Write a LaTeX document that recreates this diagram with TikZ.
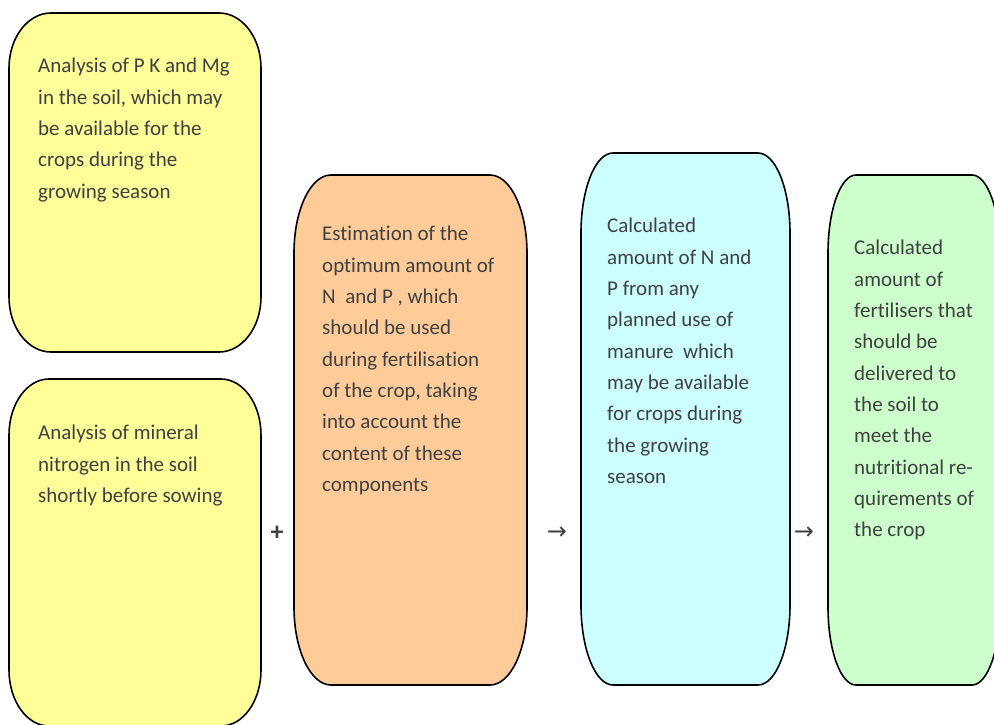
\documentclass[tikz,border=0pt]{standalone}
\usepackage{fontspec}
\setmainfont{Carlito}[Ligatures=NoCommon]
\newfontfamily\symfont{DejaVu Sans}
\definecolor{txt}{HTML}{404040}
\definecolor{cyel}{HTML}{FFFF99}
\definecolor{corg}{HTML}{FFCC99}
\definecolor{ccya}{HTML}{CCFFFF}
\definecolor{cgrn}{HTML}{CCFFCC}
\newcommand\ellbox[7]{%
  \draw[boxline,fill=#1] ({#2+#6},#5) -- ({#4-#6},#5)
    arc[start angle=90,end angle=0,x radius=#6,y radius=#7]
    -- (#4,{#3+#7})
    arc[start angle=0,end angle=-90,x radius=#6,y radius=#7]
    -- ({#2+#6},#3)
    arc[start angle=270,end angle=180,x radius=#6,y radius=#7]
    -- (#2,{#5-#7})
    arc[start angle=180,end angle=90,x radius=#6,y radius=#7]
    -- cycle;}
\begin{document}
\begin{tikzpicture}[x=1pt,y=1pt,
  boxline/.style={draw=black,line width=1.6pt},
  boxtext/.style={anchor=base west,inner sep=0pt,text=txt,
    font=\fontsize{21}{31.3}\selectfont},
  sym/.style={inner sep=0pt,text=txt}]
\useasboundingbox (0,0) rectangle (994,724);
\ellbox{cyel}{9}{372}{261}{711}{42}{55}
\ellbox{cyel}{9}{-2}{261}{345}{40}{56}
\ellbox{corg}{294}{39}{527}{549}{37}{78}
\ellbox{ccya}{581}{39}{790}{571}{32}{80}
\ellbox{cgrn}{828}{39}{1000}{549}{28}{78}
\node[boxtext] (t1) at (38,651) {\parbox[t]{240pt}{\raggedright
Analysis of P K and Mg\\in the soil, which may\\be available for the\\crops during the\\growing season}};
\node[boxtext] (t2) at (38,284) {\parbox[t]{240pt}{\raggedright
Analysis of mineral\\nitrogen in the soil\\shortly before sowing}};
\node[boxtext] (t3) at (322,483) {\parbox[t]{240pt}{\raggedright
Estimation of the\\optimum amount of\\N\ \ and P , which\\should be used\\during fertilisation\\of the crop, taking\\into account the\\content of these\\components}};
\node[boxtext] (t4) at (607,491) {\parbox[t]{240pt}{\raggedright
Calculated\\amount of N and\\P from any\\planned use of\\manure\ \ which\\may be available\\for crops during\\the growing\\season}};
\node[boxtext] (t5) at (854,469) {\parbox[t]{240pt}{\raggedright
Calculated\\amount of\\fertilisers that\\should be\\delivered to\\the soil to\\meet the\\nutritional re-\\quirements of\\the crop}};
\node[sym,font=\fontsize{26}{30}\selectfont\bfseries] (plus) at (277,191) {+};
\node[sym,font=\fontsize{24}{28}\selectfont\symfont] (arr1) at (557,191) {→};
\node[sym,font=\fontsize{24}{28}\selectfont\symfont] (arr2) at (804,191) {→};
\end{tikzpicture}
\end{document}
